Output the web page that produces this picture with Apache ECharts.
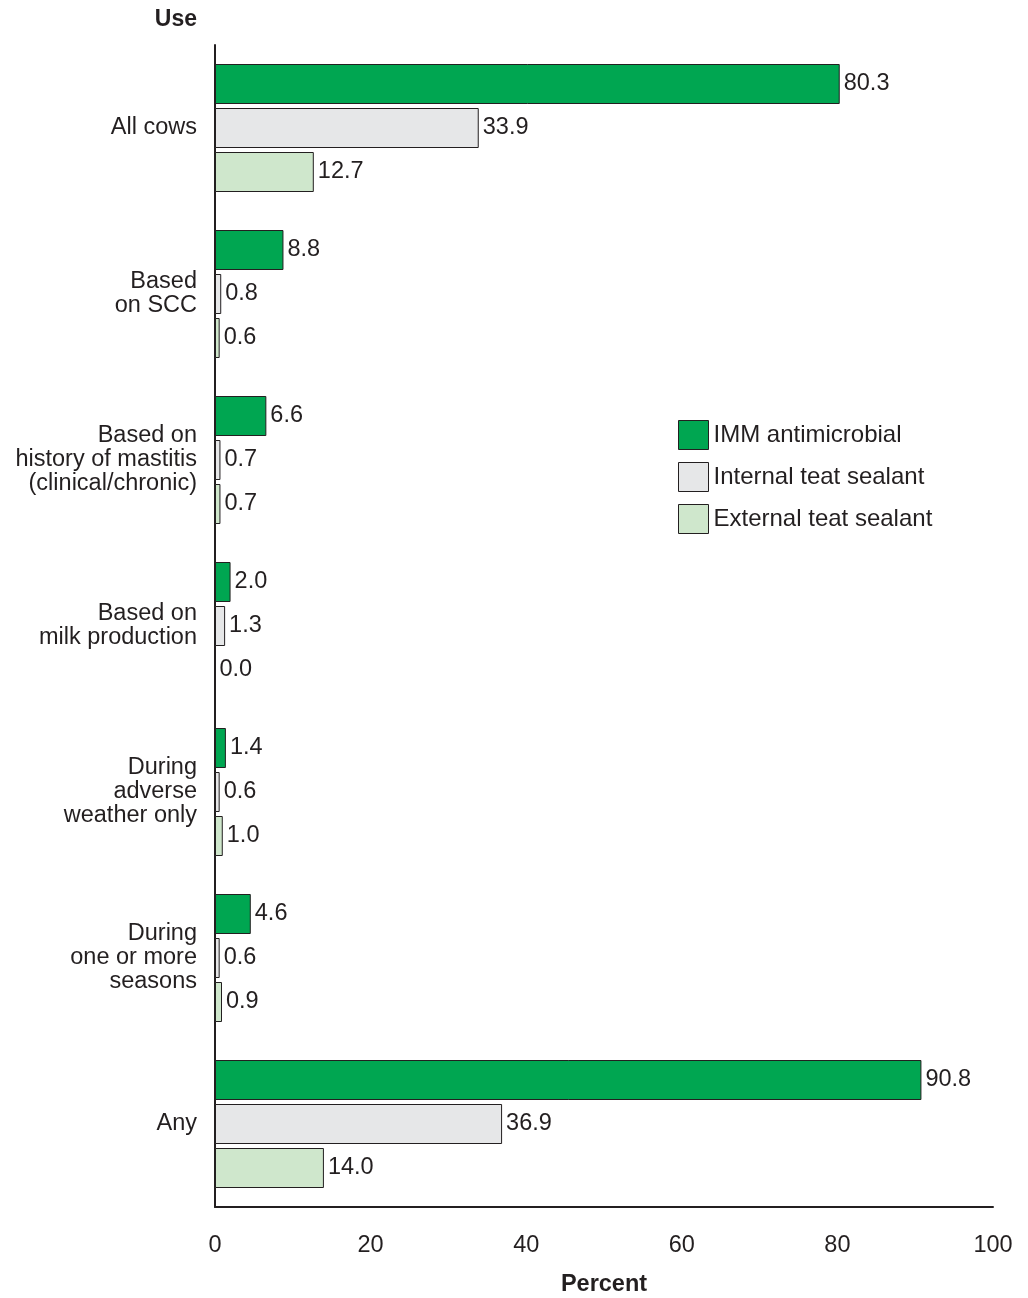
<!DOCTYPE html>
<html><head><meta charset="utf-8">
<script src="https://cdn.jsdelivr.net/npm/echarts@6/dist/echarts.min.js"></script>
<style>html,body{margin:0;padding:0;background:#fff}#c{width:1028px;height:1298px}</style>
</head><body><div id="c"></div>
<script>
const categories = ['All cows', 'Based\non SCC', 'Based on\nhistory of mastitis\n(clinical/chronic)', 'Based on\nmilk production', 'During\nadverse\nweather only', 'During\none or more\nseasons', 'Any'];
const seriesNames = ['IMM antimicrobial', 'Internal teat sealant', 'External teat sealant'];
const immAntimicrobial = [80.3, 8.8, 6.6, 2.0, 1.4, 4.6, 90.8];
const internalSealant = [33.9, 0.8, 0.7, 1.3, 0.6, 0.6, 36.9];
const externalSealant = [12.7, 0.6, 0.7, 0.0, 1.0, 0.9, 14.0];
const xTicks = [0, 20, 40, 60, 80, 100];

const FONT = '"Liberation Sans", Arial, Helvetica, sans-serif';
const TXT = '#231f20';
const FS = 23.5;
const colors = ['#00a651', '#e6e7e8', '#cfe7cc'];
const data = [immAntimicrobial, internalSealant, externalSealant];

const chart = echarts.init(document.getElementById('c'));
chart.setOption({
  animation: false,
  textStyle: { fontFamily: FONT },
  grid: { left: 215, right: 35, top: 45, bottom: 91, containLabel: false, outerBoundsMode: 'none' },
  xAxis: {
    type: 'value', min: 0, max: 100, interval: 20,
    axisLine: { show: true, lineStyle: { color: TXT, width: 2 } },
    axisTick: { show: false },
    splitLine: { show: false },
    axisLabel: { color: TXT, fontSize: FS, fontFamily: FONT, margin: 27,
      formatter: v => xTicks.includes(v) ? String(v) : '' },
    name: 'Percent', nameLocation: 'middle', nameGap: 66,
    nameTextStyle: { color: TXT, fontSize: FS, fontWeight: 'bold', fontFamily: FONT }
  },
  yAxis: {
    type: 'category', data: categories, inverse: true,
    axisLine: { show: true, lineStyle: { color: TXT, width: 2 } },
    axisTick: { show: false },
    axisLabel: { color: TXT, fontSize: FS, fontFamily: FONT, margin: 18, lineHeight: 24, align: 'right' }
  },
  legend: {
    orient: 'vertical', left: 673, top: 415,
    itemWidth: 30, itemHeight: 29, itemGap: 12, icon: 'rect',
    itemStyle: { borderWidth: 1, borderColor: TXT },
    textStyle: { color: TXT, fontSize: 24, fontFamily: FONT },
    data: seriesNames
  },
  graphic: [{
    type: 'text', right: 1028 - 197, top: 8,
    style: { text: 'Use', fill: TXT, font: 'bold 23px ' + FONT }
  }],
  series: seriesNames.map((n, i) => ({
    name: n, type: 'bar', data: data[i],
    barWidth: 40, barGap: '10%',
    itemStyle: { color: colors[i], borderColor: TXT, borderWidth: 1 },
    label: { show: true, position: 'right', distance: 4, color: TXT, fontSize: FS, fontFamily: FONT,
      formatter: p => p.value.toFixed(1) }
  }))
});
</script></body></html>
